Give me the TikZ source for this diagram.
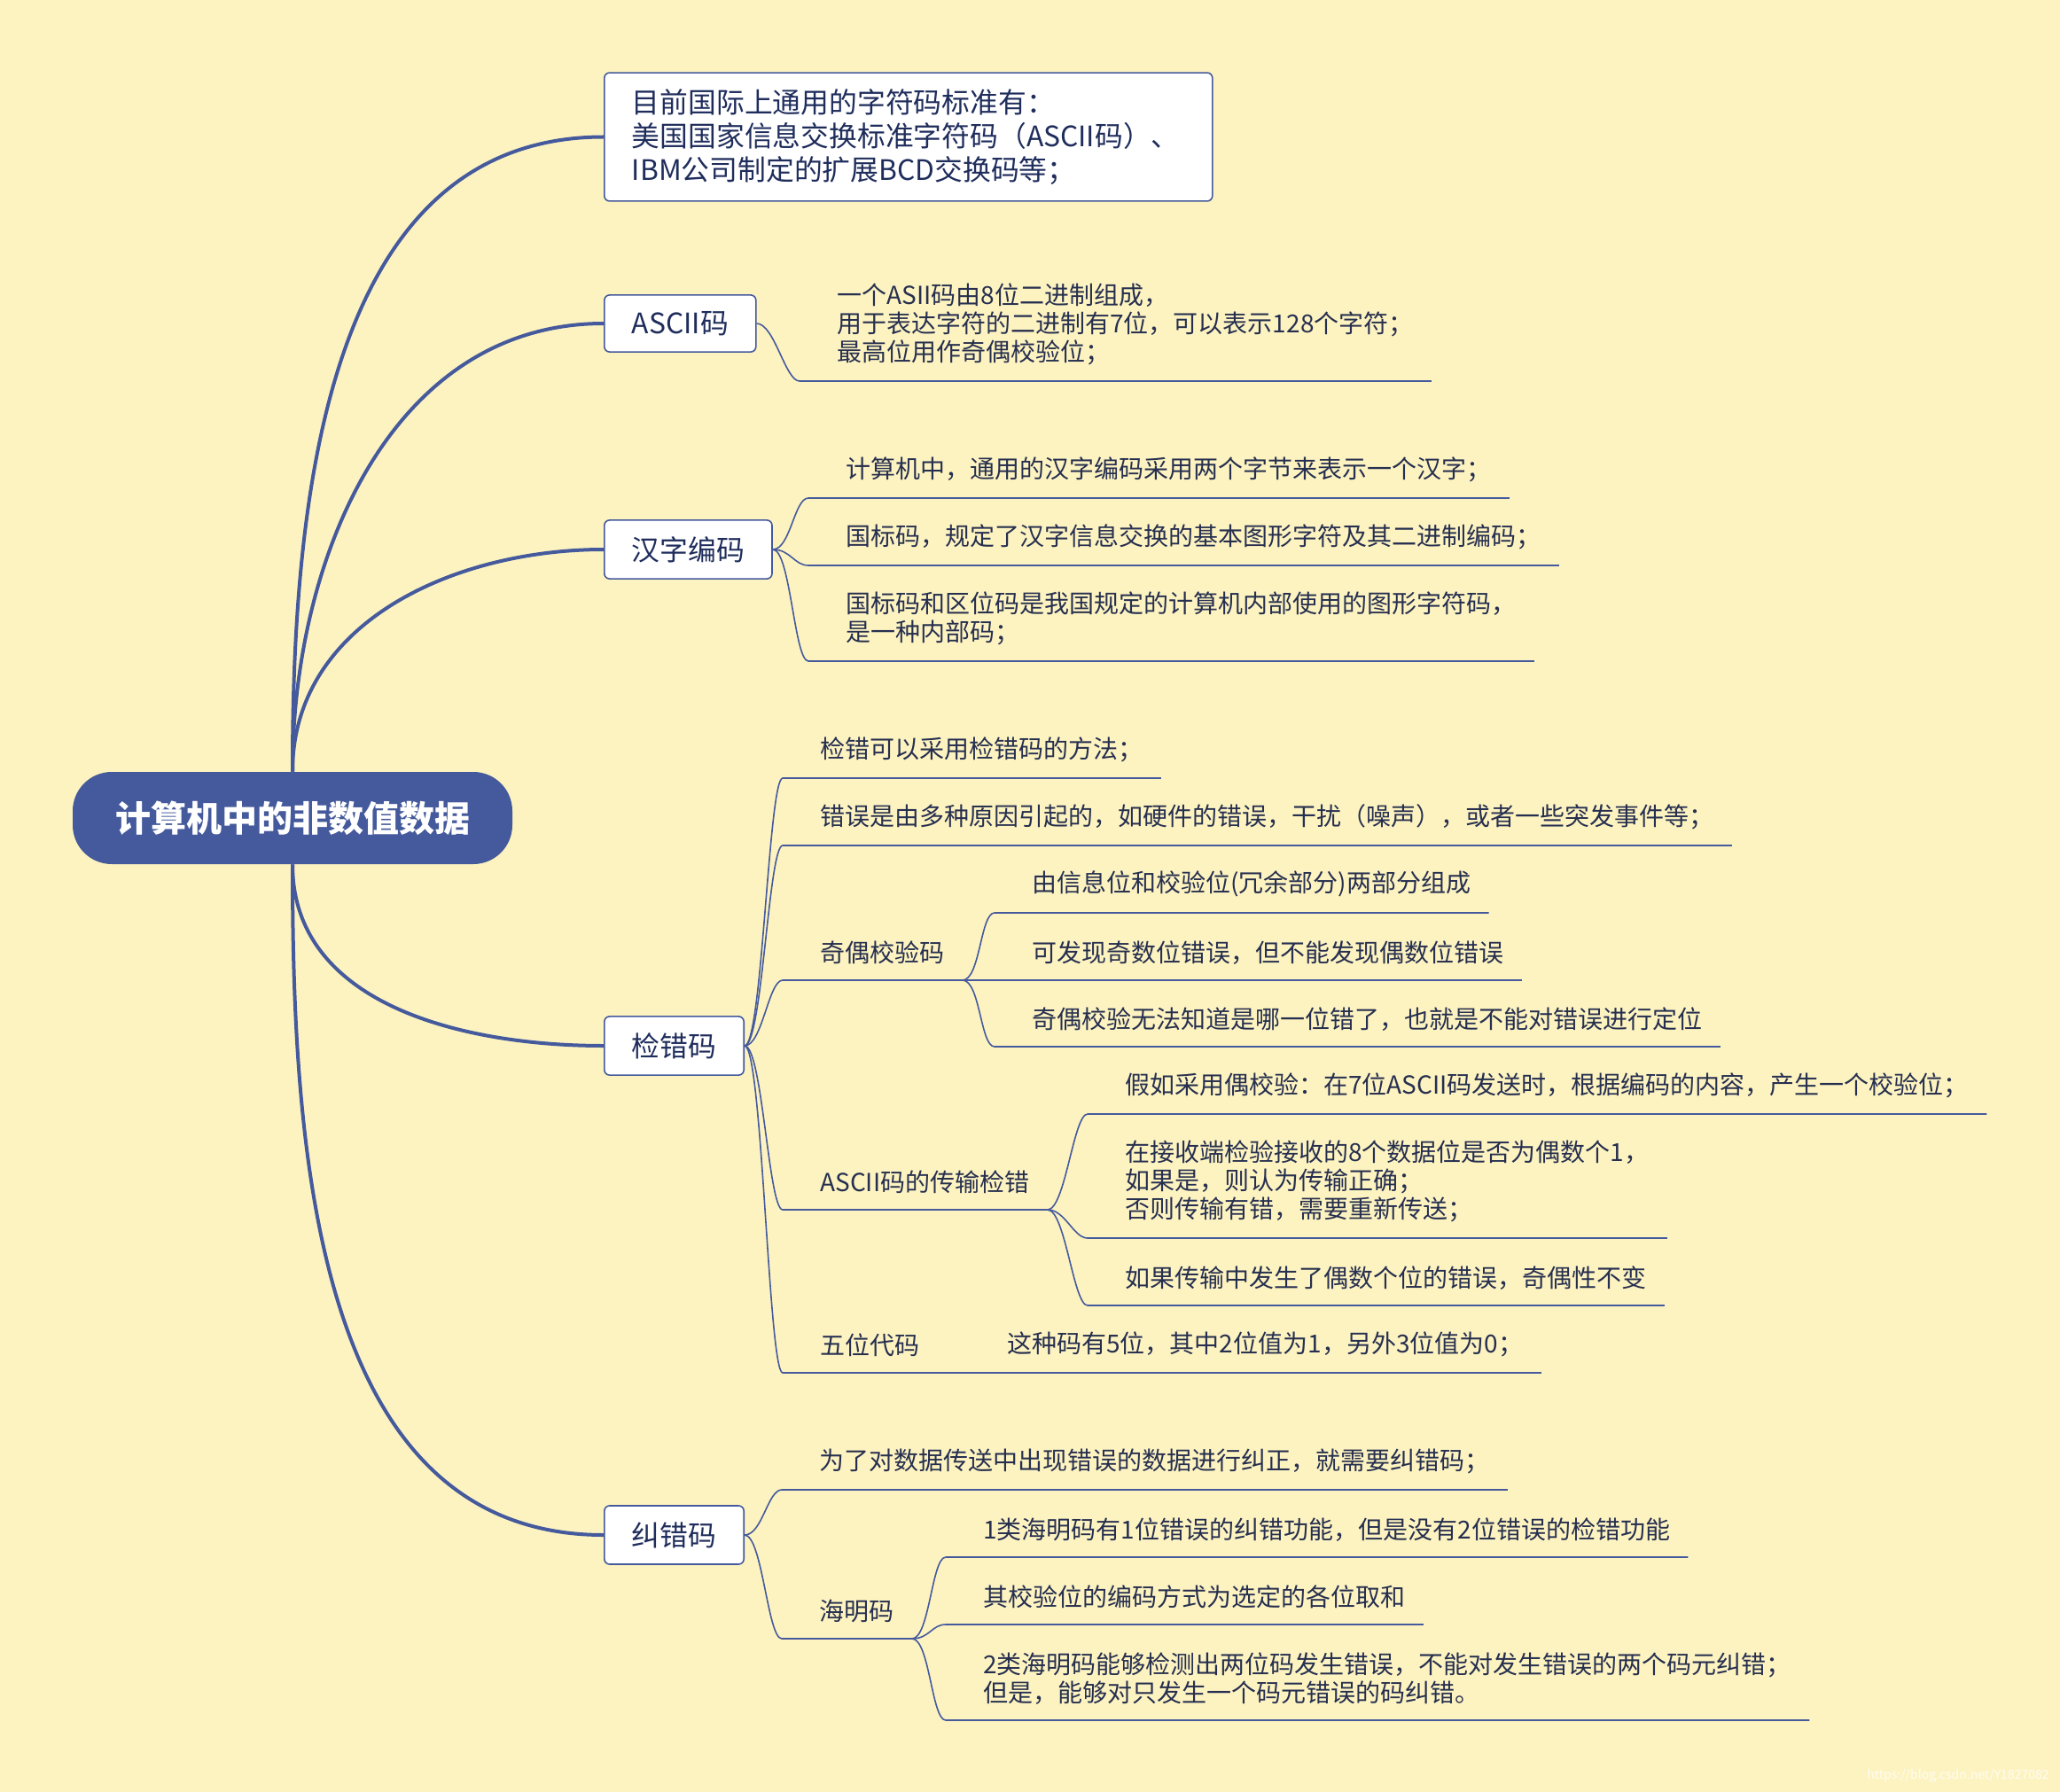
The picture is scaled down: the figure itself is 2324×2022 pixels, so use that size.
\documentclass[tikz,border=0pt]{standalone}
\usepackage{fontspec}
\setmainfont{Noto Sans CJK SC}
\definecolor{bgyellow}{HTML}{FDF3C1}
\definecolor{mapblue}{HTML}{455A9C}
\definecolor{boxtext}{HTML}{1F2D5C}
\definecolor{leaftext}{HTML}{262F4F}
\newcommand\rootfont{\fontsize{20}{24}\selectfont\bfseries}
\newcommand\topicfont{\fontsize{15.9}{19}\selectfont}
\newcommand\leaffont{\fontsize{14}{16}\selectfont}
\begin{document}
\begin{tikzpicture}[x=0.5pt,y=-0.5pt,every node/.style={inner sep=1pt}]
\tikzstyle{trunkline}=[draw=mapblue,line width=2pt]
\tikzstyle{twigline}=[draw=mapblue,line width=0.8pt]
\tikzstyle{rootnode}=[fill=mapblue,text=white,rounded corners=22pt,minimum width=248pt,minimum height=52pt,font=\rootfont]
\tikzstyle{topicbox}=[draw=mapblue,line width=0.8pt,fill=white,rounded corners=3pt,inner xsep=15.5pt,inner ysep=9.2pt,anchor=west,text=boxtext,font=\topicfont,align=left]
\tikzstyle{leafnode}=[anchor=south west,inner xsep=10pt,inner ysep=8.8pt,text=leaftext,font=\leaffont,align=left]
\fill[bgyellow] (0,0) rectangle (2324,2022);
\useasboundingbox (0,0) rectangle (2324,2022);

\node[rootnode](n0) at (330,923){计算机中的非数值数据};

\node[topicbox,text width=312pt](n1) at (681,154.5){目前国际上通用的字符码标准有：\\美国国家信息交换标准字符码（ASCII码）、\\IBM公司制定的扩展BCD交换码等；};
\node[topicbox](n2) at (681,365){ASCII码};
\node[topicbox](n3) at (681,620){汉字编码};
\node[topicbox](n4) at (681,1180){检错码};
\node[topicbox](n5) at (681,1732){纠错码};

\draw[trunkline] (n0.north) to[out=90,in=180] (n1.west);
\draw[trunkline] (n0.north) to[out=90,in=180] (n2.west);
\draw[trunkline] (n0.north) to[out=90,in=180] (n3.west);
\draw[trunkline] (n0.south) to[out=-90,in=180] (n4.west);
\draw[trunkline] (n0.south) to[out=-90,in=180] (n5.west);

% ASCII
\node[leafnode](n21) at (924,430){一个ASII码由8位二进制组成，\\用于表达字符的二进制有7位，可以表示128个字符；\\最高位用作奇偶校验位；};
\draw[twigline] (n2.east) .. controls +(10pt,0) and +(-8pt,0) .. ([xshift=-11pt]n21.south west) -- (n21.south east);

% hanzi
\node[leafnode](n31) at (934,562){计算机中，通用的汉字编码采用两个字节来表示一个汉字；};
\node[leafnode](n32) at (934,638){国标码，规定了汉字信息交换的基本图形字符及其二进制编码；};
\node[leafnode](n33) at (934,746){国标码和区位码是我国规定的计算机内部使用的图形字符码，\\是一种内部码；};
\foreach \c in {n31,n32,n33}
  \draw[twigline] (n3.east) .. controls +(10pt,0) and +(-8pt,0) .. ([xshift=-11pt]\c.south west) -- (\c.south east);

% jiancuo
\node[leafnode](n41) at (905,878){检错可以采用检错码的方法；};
\node[leafnode](n42) at (905,954){错误是由多种原因引起的，如硬件的错误，干扰（噪声），或者一些突发事件等；};
\node[leafnode](n43) at (905,1106){奇偶校验码};
\node[leafnode](n44) at (905,1365){ASCII码的传输检错};
\node[leafnode](n45) at (905,1549){五位代码};
\foreach \c in {n41,n42,n43,n44,n45}
  \draw[twigline] (n4.east) .. controls +(10pt,0) and +(-8pt,0) .. ([xshift=-11pt]\c.south west) -- (\c.south east);

\node[leafnode](n431) at (1144,1030){由信息位和校验位(冗余部分)两部分组成};
\node[leafnode](n432) at (1144,1106){可发现奇数位错误，但不能发现偶数位错误};
\node[leafnode](n433) at (1144,1181){奇偶校验无法知道是哪一位错了，也就是不能对错误进行定位};
\foreach \c in {n431,n432,n433}
  \draw[twigline] (n43.south east) .. controls +(10pt,0) and +(-8pt,0) .. ([xshift=-11pt]\c.south west) -- (\c.south east);

\node[leafnode](n441) at (1249,1257){假如采用偶校验：在7位ASCII码发送时，根据编码的内容，产生一个校验位；};
\node[leafnode](n442) at (1249,1397){在接收端检验接收的8个数据位是否为偶数个1，\\如果是，则认为传输正确；\\否则传输有错，需要重新传送；};
\node[leafnode](n443) at (1249,1473){如果传输中发生了偶数个位的错误，奇偶性不变};
\foreach \c in {n441,n442,n443}
  \draw[twigline] (n44.south east) .. controls +(10pt,0) and +(-8pt,0) .. ([xshift=-11pt]\c.south west) -- (\c.south east);

\node[leafnode](n451) at (1116,1549){这种码有5位，其中2位值为1，另外3位值为0；};
\draw[twigline] (n45.south east) -- (n451.south east);

% jiucuo
\node[leafnode](n51) at (904,1681){为了对数据传送中出现错误的数据进行纠正，就需要纠错码；};
\node[leafnode](n52) at (904,1849){海明码};
\foreach \c in {n51,n52}
  \draw[twigline] (n5.east) .. controls +(10pt,0) and +(-8pt,0) .. ([xshift=-11pt]\c.south west) -- (\c.south east);

\node[leafnode](n521) at (1089,1757){1类海明码有1位错误的纠错功能，但是没有2位错误的检错功能};
\node[leafnode](n522) at (1089,1833){其校验位的编码方式为选定的各位取和};
\node[leafnode](n523) at (1089,1941){2类海明码能够检测出两位码发生错误，不能对发生错误的两个码元纠错；\\但是，能够对只发生一个码元错误的码纠错。};
\foreach \c in {n521,n522,n523}
  \draw[twigline] (n52.south east) .. controls +(10pt,0) and +(-8pt,0) .. ([xshift=-11pt]\c.south west) -- (\c.south east);

\node[text=white,opacity=0.8,font=\fontsize{7}{8}\selectfont,anchor=east](wm) at (2314,2004){https://blog.csdn.net/Y1827082};
\end{tikzpicture}
\end{document}
